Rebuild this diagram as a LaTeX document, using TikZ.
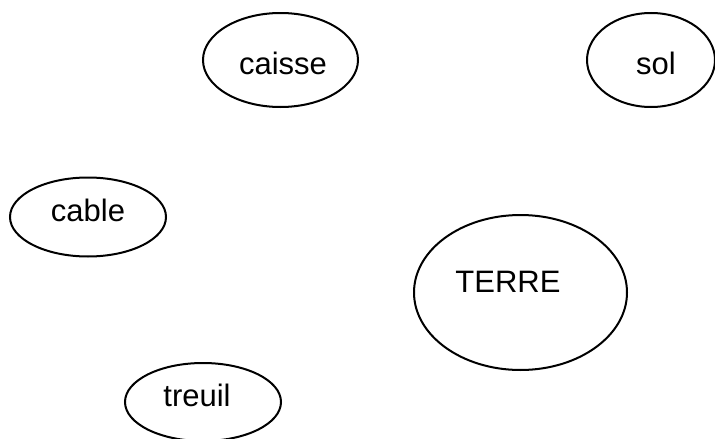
\documentclass[tikz,border=0pt]{standalone}
\usepackage{fontspec}
\setmainfont{Liberation Sans}
\usetikzlibrary{shapes.geometric}
\begin{document}
\begin{tikzpicture}[x=1pt,y=-1pt,
  ell/.style={draw, ellipse, line width=2pt, inner sep=0pt},
  lbl/.style={font=\fontsize{31}{36}\selectfont, inner sep=0pt}]
\useasboundingbox (0,0) rectangle (715,439);
\node[ell, minimum width=155pt, minimum height=94pt] (caisseE) at (280.5,60) {};
\node[lbl] (caisse) at (283,63) {caisse};
\node[ell, minimum width=128pt, minimum height=94pt] (solE) at (651,60) {};
\node[lbl] (sol) at (656,63) {sol};
\node[ell, minimum width=156pt, minimum height=79pt] (cableE) at (88,217) {};
\node[lbl] (cable) at (88,210) {cable};
\node[ell, minimum width=213pt, minimum height=155pt] (terreE) at (520.5,292.5) {};
\node[lbl] (terre) at (508,282) {TERRE};
\node[ell, minimum width=156pt, minimum height=78pt] (treuilE) at (203,402) {};
\node[lbl] (treuil) at (197,395) {treuil};
\end{tikzpicture}
\end{document}
